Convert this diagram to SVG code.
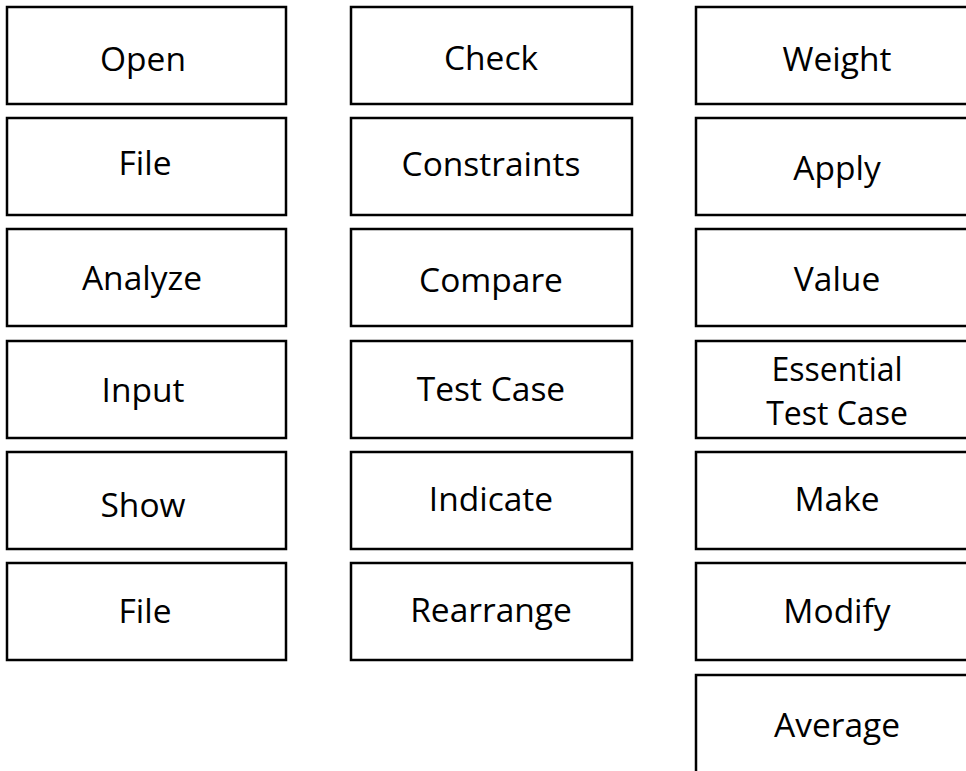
<svg xmlns="http://www.w3.org/2000/svg" width="966" height="771" viewBox="0 0 966 771">
<style>
rect{fill:#fff;stroke:#000;stroke-width:2.5}
text{font-family:"Open Sans","Noto Sans","DejaVu Sans",sans-serif;font-size:33.5px;fill:#000;text-anchor:middle}
</style>
<rect x="0" y="0" width="966" height="771" style="stroke:none"/>
<g id="n-open"><rect x="7" y="7" width="279" height="97"/><text x="143" y="71">Open</text></g>
<g id="n-file1"><rect x="7" y="118" width="279" height="97"/><text x="145" y="175">File</text></g>
<g id="n-analyze"><rect x="7" y="229" width="279" height="97"/><text x="142" y="290">Analyze</text></g>
<g id="n-input"><rect x="7" y="341" width="279" height="97"/><text x="143" y="402">Input</text></g>
<g id="n-show"><rect x="7" y="452" width="279" height="97"/><text x="143" y="517">Show</text></g>
<g id="n-file2"><rect x="7" y="563" width="279" height="97"/><text x="145" y="623">File</text></g>
<g id="n-check"><rect x="351" y="7" width="281" height="97"/><text x="491" y="70">Check</text></g>
<g id="n-constraints"><rect x="351" y="118" width="281" height="97"/><text x="491" y="176">Constraints</text></g>
<g id="n-compare"><rect x="351" y="229" width="281" height="97"/><text x="491" y="292">Compare</text></g>
<g id="n-testcase"><rect x="351" y="341" width="281" height="97"/><text x="491" y="401">Test Case</text></g>
<g id="n-indicate"><rect x="351" y="452" width="281" height="97"/><text x="491" y="511">Indicate</text></g>
<g id="n-rearrange"><rect x="351" y="563" width="281" height="97"/><text x="491" y="622">Rearrange</text></g>
<g id="n-weight"><rect x="696" y="7" width="282" height="97"/><text x="837" y="71">Weight</text></g>
<g id="n-apply"><rect x="696" y="118" width="282" height="97"/><text x="837" y="180">Apply</text></g>
<g id="n-value"><rect x="696" y="229" width="282" height="97"/><text x="837" y="291">Value</text></g>
<g id="n-essential"><rect x="696" y="341" width="282" height="97"/><text x="837" y="381" style="font-size:32px">Essential</text><text x="837" y="425" style="font-size:32px">Test Case</text></g>
<g id="n-make"><rect x="696" y="452" width="282" height="97"/><text x="837" y="511">Make</text></g>
<g id="n-modify"><rect x="696" y="563" width="282" height="97"/><text x="837" y="623">Modify</text></g>
<g id="n-average"><rect x="696" y="675" width="282" height="110"/><text x="837" y="737">Average</text></g>
<g id="connectors"></g>
</svg>
